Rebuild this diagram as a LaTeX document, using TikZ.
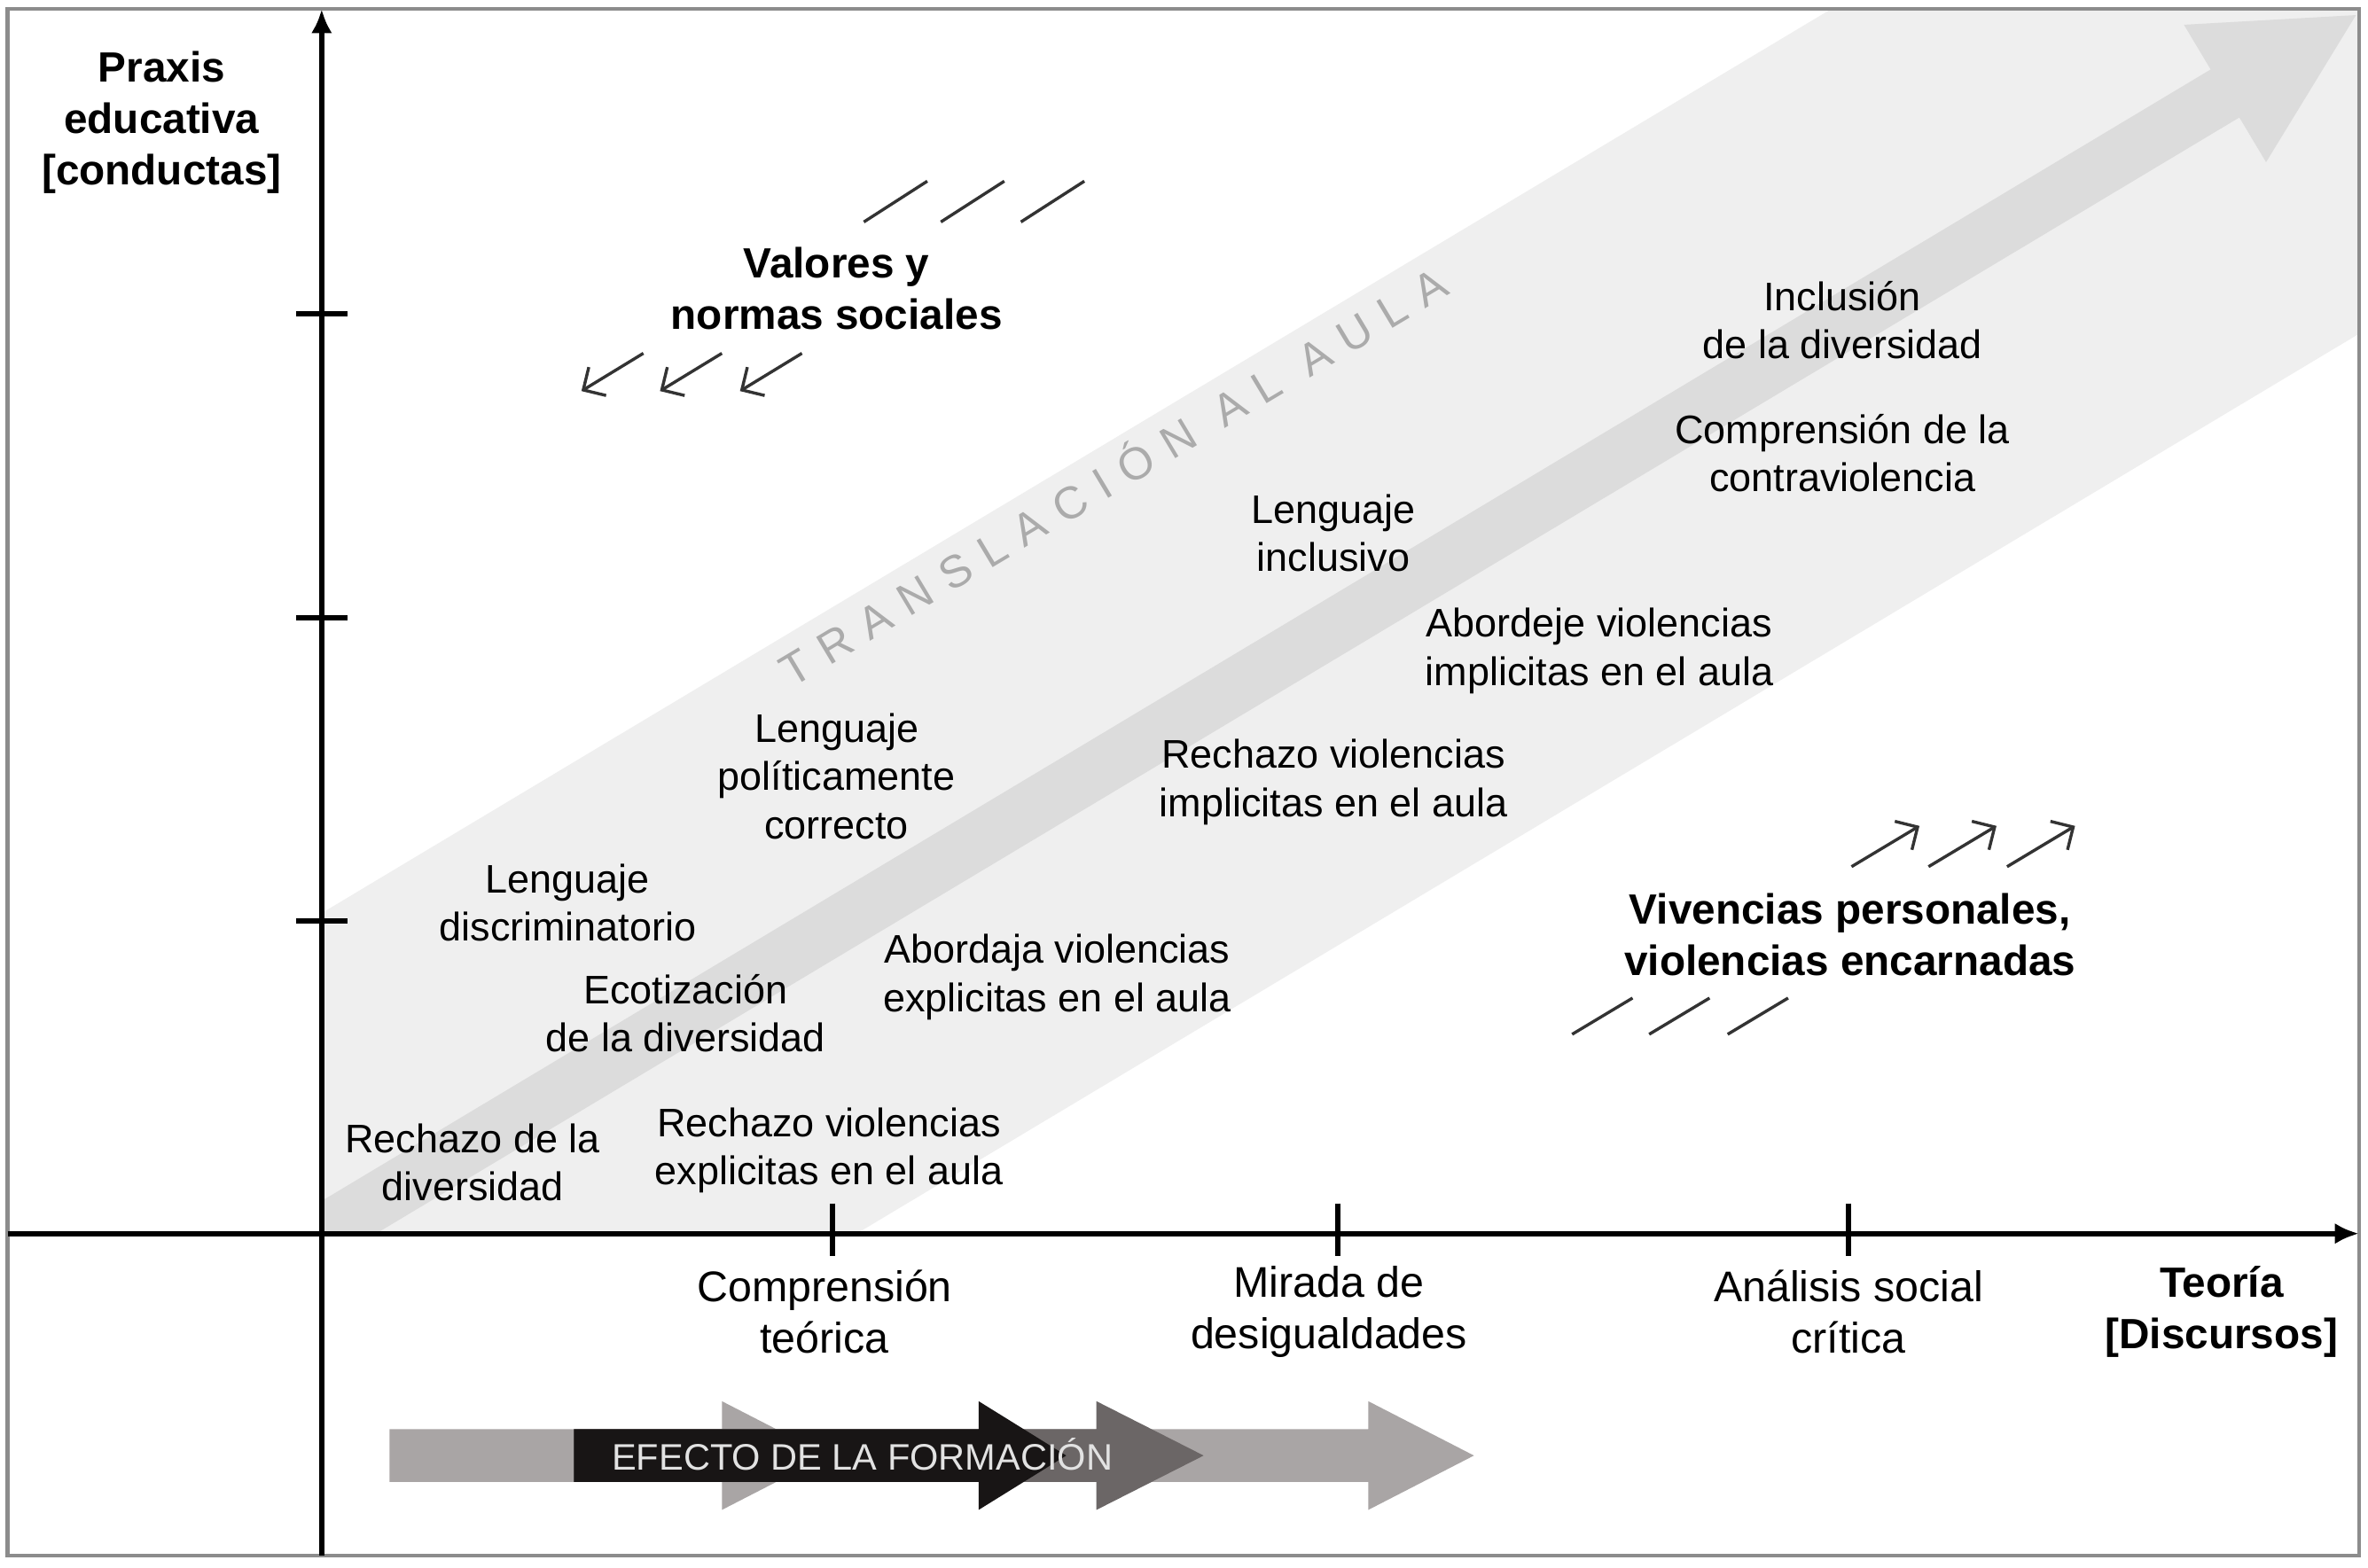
\documentclass[tikz,border=0pt]{standalone}
\usepackage{fontspec}
\setmainfont{Liberation Sans}
\newfontfamily\spacedfont{Liberation Sans}[LetterSpace=34]
\usetikzlibrary{arrows.meta}
\definecolor{bandgray}{HTML}{EFEFEF}
\definecolor{arrowgray}{HTML}{DCDCDC}
\definecolor{transgray}{HTML}{ABABAB}
\definecolor{framegray}{HTML}{8C8C8C}
\definecolor{lightarr}{HTML}{A9A5A5}
\definecolor{darkarr}{HTML}{6B6666}
\definecolor{blackarr}{HTML}{181515}
\definecolor{efectotext}{HTML}{E2E2E2}
\begin{document}
\begin{tikzpicture}[x=0.5pt,y=-0.5pt,
  lbl/.style={align=center, font=\fontsize{13.2}{16}\selectfont, inner sep=0pt},
  axlbl/.style={align=center, font=\fontsize{14.2}{17}\selectfont, inner sep=0pt},
  boldlbl/.style={align=center, font=\fontsize{14}{17}\selectfont\bfseries, inner sep=0pt},
  axisline/.style={line width=1.8pt, -{Latex[length=8pt,width=7pt]}},
  tickline/.style={line width=1.8pt},
  slashline/.style={line width=1pt, draw=black!80},
  smallarrow/.style={line width=1pt, draw=black!80, -{Straight Barb[length=5.5pt,width=11pt]}},
]
\useasboundingbox (0,0) rectangle (1568,1038);
\fill[white] (0,0) rectangle (1568,1038);

% diagonal band and big arrow
\begin{scope}
  \clip (213,6) rectangle (1562,817);
  \fill[bandgray] (49.1,1127.4) -- (2022.5,-54.8) -- (1835.5,-367.2) -- (-137.9,815) -- cycle;
  \fill[arrowgray] (136.7,884.3) -- (1482.8,77.8) -- (1500.5,107.4) -- (1560,10)
     -- (1446.1,16.4) -- (1463.8,46.0) -- (117.7,852.5) -- cycle;
\end{scope}
\node[rotate=30.9, text=transgray, inner sep=0pt,
      font=\spacedfont\fontsize{15}{18}\selectfont] (transl) at (736,314) {TRANSLACIÓN AL AULA};

% frame
\draw[framegray, line width=1.2pt] (5,6) rectangle (1562,1030);

% axes
\coordinate (ybot) at (213,1030);
\coordinate (ytop) at (213,6);
\coordinate (xleft) at (5,817);
\coordinate (xright) at (1562,817);
\draw[axisline] (ybot) -- (ytop);
\draw[axisline] (xleft) -- (xright);
\foreach \yy in {208,409,610} \draw[tickline] (196,\yy) -- (230,\yy);
\foreach \xx in {551,886,1224} \draw[tickline] (\xx,797) -- (\xx,832);

% bottom arrows: efecto de la formacion
\fill[lightarr] (258,946.5) -- (906,946.5) -- (906,928) -- (976,964) -- (906,1000) -- (906,981.5) -- (258,981.5) -- cycle;
\fill[lightarr] (478,928) -- (548,964) -- (478,1000) -- cycle;
\fill[darkarr] (380,946.5) -- (726,946.5) -- (726,928) -- (797,964) -- (726,1000) -- (726,981.5) -- (380,981.5) -- cycle;
\fill[blackarr] (380,946.5) -- (648,946.5) -- (648,928) -- (706,964) -- (648,1000) -- (648,981.5) -- (380,981.5) -- cycle;
\node[text=efectotext, inner sep=0pt, font=\fontsize{12.2}{14}\selectfont] (efecto) at (571,963) {EFECTO DE LA FORMACIÓN};

% axis titles
\node[boldlbl] (praxis) at (107,81) {Praxis\\educativa\\{[conductas]}};
\node[boldlbl] (teoria) at (1471,869) {Teoría\\{[Discursos]}};
\node[axlbl] (comp) at (546,869) {Comprensión\\teórica};
\node[axlbl] (mirada) at (880,869) {Mirada de\\desigualdades};
\node[axlbl] (analisis) at (1224,869) {Análisis social\\crítica};

% bold group labels
\node[boldlbl] (valores) at (554,191) {Valores y\\normas sociales};
\node[boldlbl] (vivencias) at (1225,619) {Vivencias personales,\\violencias encarnadas};

% plain labels
\node[lbl] (inclusion) at (1220,212) {Inclusión\\de la diversidad};
\node[lbl] (contra) at (1220,300) {Comprensión de la\\contraviolencia};
\node[lbl] (lincl) at (883,353) {Lenguaje\\inclusivo};
\node[lbl] (abimpl) at (1059,431) {Abordeje violencias\\implicitas en el aula};
\node[lbl] (reimpl) at (883,518) {Rechazo violencias\\implicitas en el aula};
\node[lbl] (lpol) at (554,514) {Lenguaje\\políticamente\\correcto};
\node[lbl] (ldisc) at (376,598) {Lenguaje\\discriminatorio};
\node[lbl] (abexpl) at (700,647) {Abordaja violencias\\explicitas en el aula};
\node[lbl] (ecot) at (454,671) {Ecotización\\de la diversidad};
\node[lbl] (rediv) at (313,770) {Rechazo de la\\diversidad};
\node[lbl] (reexpl) at (549,762) {Rechazo violencias\\explicitas en el aula};

% slashes and small arrows near Valores
\foreach \i/\xa in {1/572,2/623,3/676} {
  \coordinate (vs\i a) at (\xa,147);
  \coordinate (vs\i b) at (\xa+42,120);
  \draw[slashline] (vs\i a) -- (vs\i b);
}
\foreach \i/\xa in {1/426,2/478,3/531} {
  \coordinate (va\i a) at (\xa,234);
  \coordinate (va\i b) at (\xa-41,259);
  \draw[smallarrow] (va\i a) -- (va\i b);
}
% slashes and small arrows near Vivencias
\foreach \i/\xa in {1/1226,2/1277,3/1329} {
  \coordinate (wa\i a) at (\xa,574);
  \coordinate (wa\i b) at (\xa+45,547);
  \draw[smallarrow] (wa\i a) -- (wa\i b);
}
\foreach \i/\xa in {1/1041,2/1092,3/1144} {
  \coordinate (ws\i a) at (\xa,685);
  \coordinate (ws\i b) at (\xa+40,661);
  \draw[slashline] (ws\i a) -- (ws\i b);
}
\end{tikzpicture}
\end{document}
